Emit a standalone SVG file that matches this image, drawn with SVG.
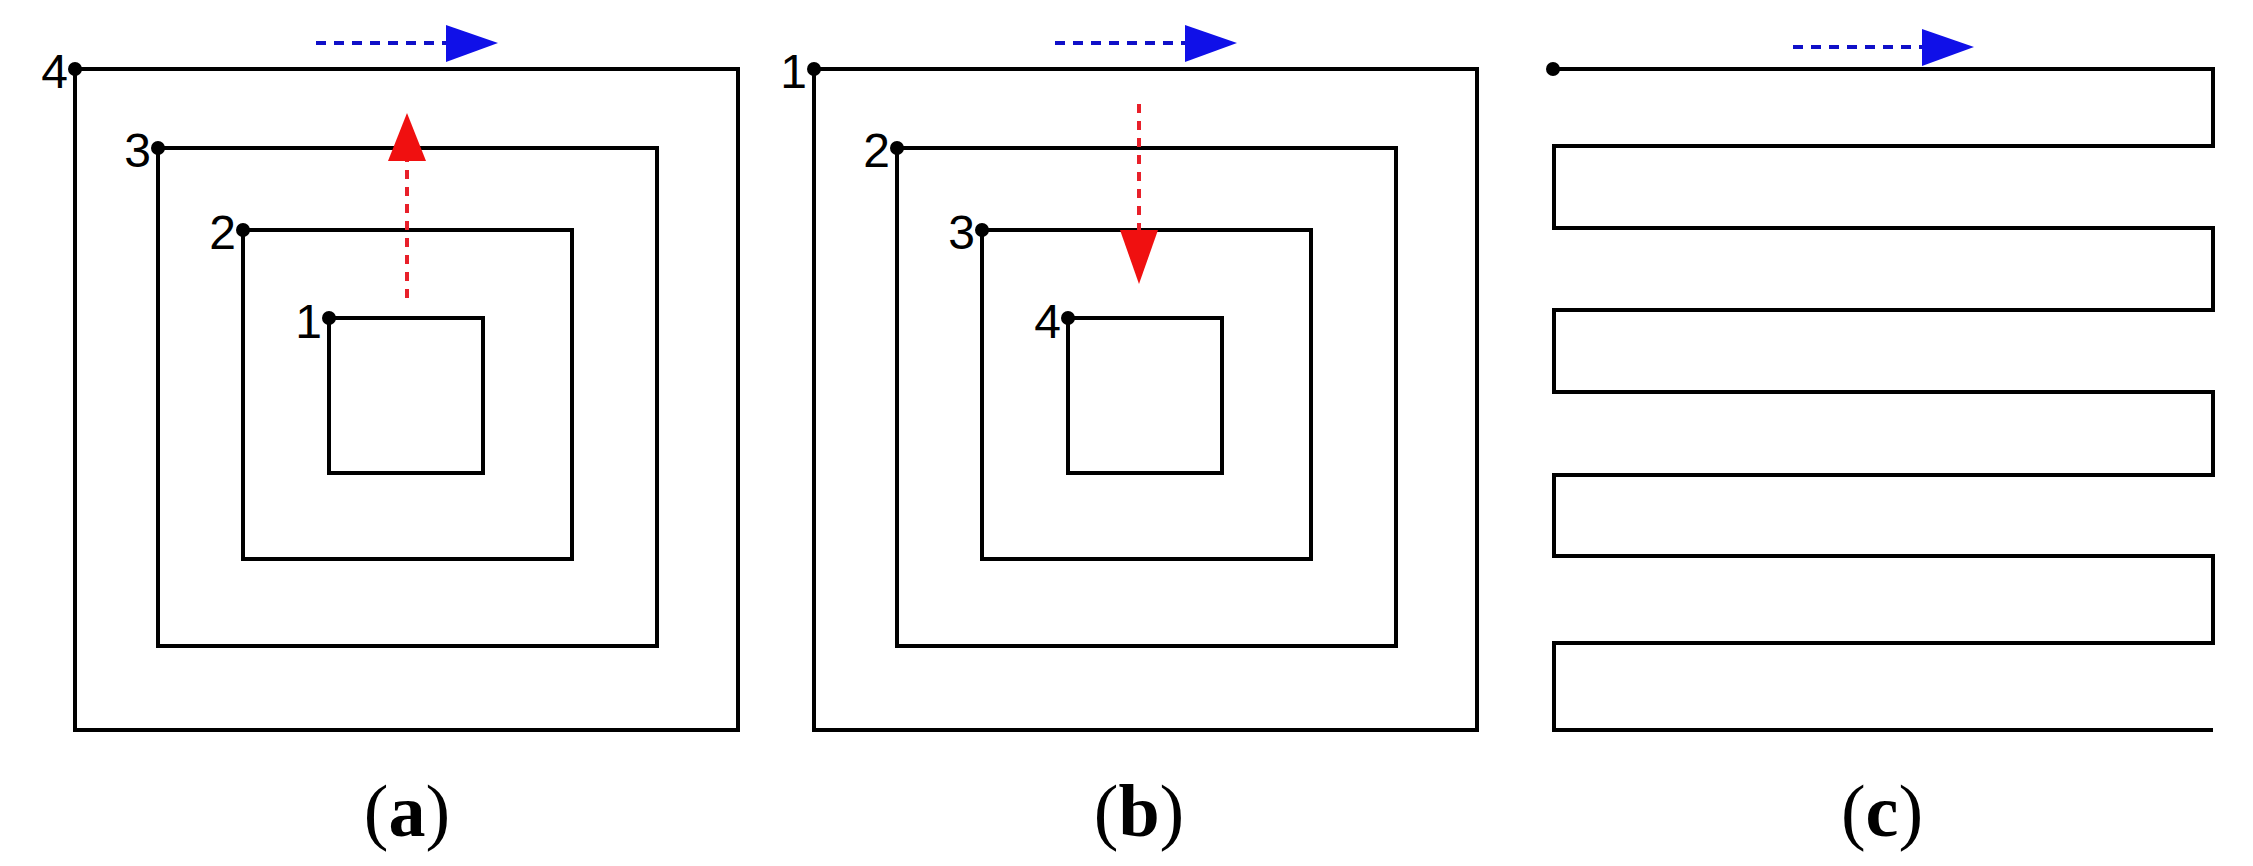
<svg xmlns="http://www.w3.org/2000/svg" width="2253" height="866" viewBox="0 0 2253 866">
<style>
.p{fill:none;stroke:#000;stroke-width:4}
.d{fill:#000}
.n{font-family:"Liberation Sans",Arial,sans-serif;font-size:48px;text-anchor:end}
.cap{font-family:"Liberation Serif","Times New Roman",serif;font-size:74px;text-anchor:middle}
.bl{stroke:#1010c8;stroke-width:4;stroke-dasharray:10 8;fill:none}
.rd{stroke:#e8202a;stroke-width:4;stroke-dasharray:9 8;fill:none}
</style>
<rect width="2253" height="866" fill="#fff"/>
<g id="panel-a">
<rect class="p" x="75" y="69" width="663" height="661"/>
<rect class="p" x="158" y="148" width="499" height="498"/>
<rect class="p" x="243" y="230" width="329" height="329"/>
<rect class="p" x="329" y="318" width="154" height="155"/>
<circle class="d" cx="75" cy="69" r="7"/><circle class="d" cx="158" cy="148" r="7"/><circle class="d" cx="243" cy="230" r="7"/><circle class="d" cx="329" cy="318" r="7"/>
<text class="n" x="68" y="88">4</text><text class="n" x="151" y="167">3</text><text class="n" x="236" y="249">2</text><text class="n" x="322" y="338">1</text>
<text class="cap" x="407" y="836">(<tspan font-weight="bold">a</tspan>)</text>
</g>
<g id="panel-b">
<rect class="p" x="814" y="69" width="663" height="661"/>
<rect class="p" x="897" y="148" width="499" height="498"/>
<rect class="p" x="982" y="230" width="329" height="329"/>
<rect class="p" x="1068" y="318" width="154" height="155"/>
<circle class="d" cx="814" cy="69" r="7"/><circle class="d" cx="897" cy="148" r="7"/><circle class="d" cx="982" cy="230" r="7"/><circle class="d" cx="1068" cy="318" r="7"/>
<text class="n" x="807" y="88">1</text><text class="n" x="890" y="167">2</text><text class="n" x="975" y="249">3</text><text class="n" x="1061" y="338">4</text>
<text class="cap" x="1139" y="836">(<tspan font-weight="bold">b</tspan>)</text>
</g>
<g id="panel-c">
<path class="p" d="M1553 69H2213V146H1554V228H2213V310H1554V392H2213V475H1554V556H2213V643H1554V730H2213"/>
<circle class="d" cx="1553" cy="69" r="7"/>
<text class="cap" x="1882" y="836">(<tspan font-weight="bold">c</tspan>)</text>
</g>
<g id="connectors">
<line class="bl" x1="316" y1="43" x2="446" y2="43"/><polygon fill="#1010e8" points="446,25 498,43 446,62"/>
<line class="bl" x1="1055" y1="43" x2="1185" y2="43"/><polygon fill="#1010e8" points="1185,25 1237,43 1185,62"/>
<line class="bl" x1="1793" y1="47" x2="1922" y2="47"/><polygon fill="#1010e8" points="1922,29 1974,47 1922,66"/>
<line class="rd" x1="407" y1="298" x2="407" y2="161"/><polygon fill="#f01010" points="388,161 407,113 426,161"/>
<line class="rd" x1="1139" y1="104" x2="1139" y2="230"/><polygon fill="#f01010" points="1120,230 1139,284 1158,230"/>
</g>
</svg>
